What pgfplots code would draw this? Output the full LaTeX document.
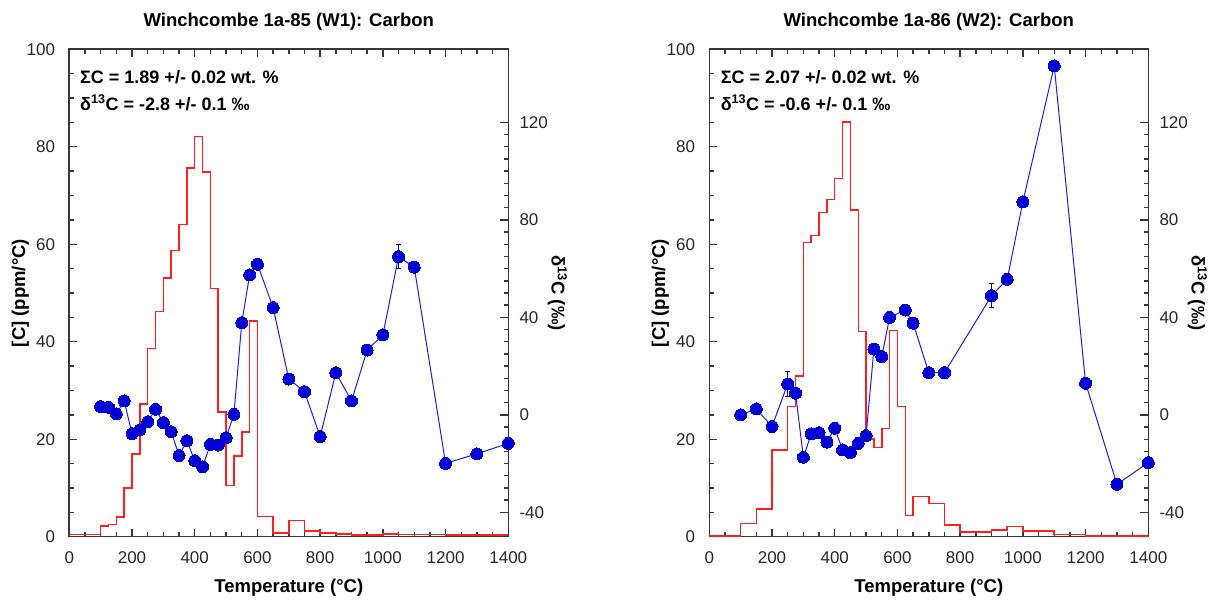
\documentclass[border=0pt]{standalone}
\usepackage{fontspec}
\setmainfont{Liberation Sans}
\usepackage{pgfplots}
\pgfplotsset{compat=1.18}
\definecolor{cred}{RGB}{255,30,30}
\definecolor{cblue}{RGB}{0,0,210}
\definecolor{cbline}{RGB}{30,30,225}
\definecolor{caxis}{RGB}{55,55,55}
\newcommand{\lblfont}{\fontsize{18.5}{20}\selectfont\bfseries}
\tikzset{annot/.style={anchor=base west, inner sep=0pt, font=\fontsize{18}{18}\selectfont\bfseries}}
\pgfplotsset{
 base/.style={
  scale only axis, width=439pt, height=487.4pt,
  xmin=0, xmax=1400,
  axis line style={caxis, line width=1.6pt, -},
  every tick/.style={caxis, line width=1.4pt},
  major tick length=8pt, minor tick length=4.5pt,
  tick label style={font=\fontsize{17}{17}\selectfont, text=black!85},
  /pgf/number format/assume math mode=true,
  /pgf/number format/1000 sep={},
 },
 main/.style={base,
  ymin=0, ymax=100,
  xtick={0,200,...,1400}, minor x tick num=3,
  ytick={0,20,...,100}, minor y tick num=3,
  xtick pos=both, ytick pos=left,
  tick align=inside,
  xticklabel style={inner sep=0pt, anchor=north, yshift=-15pt},
  yticklabel style={inner sep=0pt, anchor=east, xshift=-14pt},
  every axis x label/.style={at={(axis description cs:0.5,0)}, yshift=-51pt, anchor=center, font=\lblfont},
  every axis y label/.style={at={(axis description cs:0,0.5)}, xshift=-49pt, rotate=90, anchor=center, font=\lblfont},
  every axis title/.style={at={(axis description cs:0.5,1)}, yshift=27.6pt, anchor=center, font=\lblfont},
  xlabel={Temperature (°C)}, ylabel={[C] (ppm/°C)},
 },
 second/.style={base,
  ymin=-50, ymax=150, ytick={-40,0,...,120}, minor y tick num=7,
  axis y line*=right, axis x line=none,
  tick align=inside,
  yticklabel style={inner sep=0pt, anchor=west, xshift=11pt},
  every axis y label/.style={at={(axis description cs:1,0.5)}, xshift=49pt, rotate=-90, anchor=center, font=\lblfont},
  ylabel={δ\textsuperscript{13}C (‰)},
  clip=false,
 },
 redline/.style={cred, line width=1.5pt, const plot, mark=none},
 blueline/.style={cbline, line width=1pt, mark=*, mark size=6pt, mark options={fill=cblue, draw=cblue, line width=0pt}},
 errs/.style={cblue, only marks, mark=none, forget plot,
   error bars/.cd, y dir=both, y explicit,
   error bar style={cblue, line width=1pt},
   error mark options={cblue, rotate=90, mark size=2.5pt, line width=1pt}},
}
\begin{document}
\begin{tikzpicture}
% ---------- Left panel ----------
\begin{axis}[main, at={(69.3pt,63.3pt)}, anchor=south west,
  title={Winchcombe 1a-85 (W1): Carbon}]
\addplot[redline] coordinates {
(0,0.5) (100,2.2) (125,2.5) (150,4.0) (175,10.0) (200,17.0) (225,27.2)
(250,38.6) (275,46.2) (300,53.1) (325,58.7) (350,64.1) (375,75.6)
(400,82.1) (425,74.8) (450,50.9) (475,25.6) (500,10.5) (525,16.6)
(550,21.5) (575,44.3) (600,4.1) (650,0.8) (700,3.3) (750,1.2)
(800,0.8) (850,0.55) (900,0.3) (1000,0.55) (1050,0.4) (1100,0.5)
(1200,0.3) (1400,0.3)};
\node[annot] at (axis cs:34,93.0) {ΣC = 1.89 +/- 0.02 wt. \%};
\node[annot] at (axis cs:34,87.5) {δ\textsuperscript{13}C = -2.8 +/- 0.1 ‰};
\end{axis}
\begin{axis}[second, at={(69.3pt,63.3pt)}, anchor=south west]
\addplot[errs] coordinates {(700,14.7) +- (0,1.5) (1050,64.9) +- (0,5)};
\addplot[blueline] coordinates {
(100,3.4) (125,3.1) (150,0.4) (175,5.7) (200,-7.7) (225,-6.2) (250,-2.8)
(275,2.3) (300,-3.2) (325,-6.9) (350,-16.7) (375,-10.6) (400,-18.8)
(425,-21.3) (450,-12.1) (475,-12.4) (500,-9.4) (525,0.2) (550,37.8)
(575,57.4) (600,61.8) (650,44.0) (700,14.7) (750,9.5) (800,-8.9)
(850,17.3) (900,5.7) (950,26.6) (1000,32.8) (1050,64.9) (1100,60.6)
(1200,-19.9) (1300,-16.0) (1400,-11.7)};
\end{axis}
% ---------- Right panel ----------
\begin{axis}[main, at={(709.3pt,63.3pt)}, anchor=south west,
  title={Winchcombe 1a-86 (W2): Carbon}]
\addplot[redline] coordinates {
(0,0.15) (100,2.7) (150,5.7) (200,17.8) (250,26.7) (275,33.0) (300,60.4)
(325,61.8) (350,66.5) (375,69.2) (400,73.5) (425,85.1) (450,67.0)
(475,42.1) (500,20.0) (525,18.3) (550,22.2) (575,42.3) (600,26.7)
(625,4.4) (650,8.2) (700,6.8) (750,2.4) (800,1.0) (900,1.4) (950,2.1)
(1000,1.2) (1100,0.5) (1200,0.15) (1400,0.15)};
\node[annot] at (axis cs:36,93.0) {ΣC = 2.07 +/- 0.02 wt. \%};
\node[annot] at (axis cs:36,87.5) {δ\textsuperscript{13}C = -0.6 +/- 0.1 ‰};
\end{axis}
\begin{axis}[second, at={(709.3pt,63.3pt)}, anchor=south west]
\addplot[errs] coordinates {(250,12.7) +- (0,5) (900,48.9) +- (0,5)};
\addplot[blueline] coordinates {
(100,0.0) (150,2.4) (200,-4.8) (250,12.7) (275,8.9) (300,-17.4)
(325,-7.8) (350,-7.3) (375,-11.2) (400,-5.5) (425,-14.4) (450,-15.5)
(475,-11.7) (500,-8.5) (525,27.0) (550,23.9) (575,40.0) (625,43.0)
(650,37.6) (700,17.3) (750,17.3) (900,48.9) (950,55.6) (1000,87.4)
(1100,143.2) (1200,13.0) (1300,-28.5) (1400,-19.6)};
\end{axis}
\pgfresetboundingbox
\path (0,0) rectangle (1211pt,600pt);
\end{tikzpicture}
\end{document}
